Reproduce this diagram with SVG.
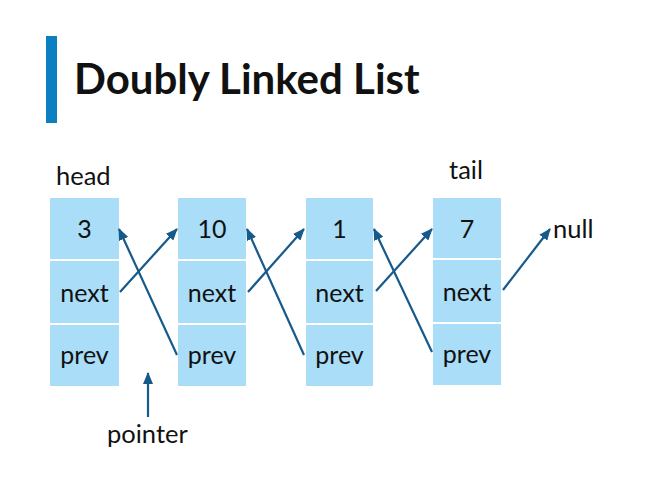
<svg xmlns="http://www.w3.org/2000/svg" width="653" height="483" viewBox="0 0 653 483">
<style>
.t{font-family:Lato,"Open Sans",sans-serif;fill:#111;}
.c{fill:#a9ddf8;}
.v{font-size:25px;text-anchor:middle;}
.lbl{font-size:25.5px;}
.a{stroke:#165a8c;stroke-width:2.2;fill:none;marker-end:url(#ah);}
</style>
<defs>
<marker id="ah" viewBox="0 0 12 10" refX="11" refY="5" markerWidth="12" markerHeight="10" markerUnits="userSpaceOnUse" orient="auto">
<path d="M0,0 L12,5 L0,10 Z" fill="#165a8c"/>
</marker>
</defs>
<rect width="653" height="483" fill="#ffffff"/>
<rect x="46" y="36" width="11" height="87" fill="#0a80c2"/>
<text class="t" x="74" y="94" font-size="42" font-weight="bold">Doubly Linked List</text>
<text class="t lbl" x="56" y="185">head</text>
<text class="t lbl" x="449" y="179">tail</text>
<text class="t lbl" x="553" y="238">null</text>
<text class="t lbl" x="107" y="443">pointer</text>
<g id="node1">
<rect class="c" x="50" y="198" width="69" height="61"/>
<rect class="c" x="50" y="261" width="69" height="62"/>
<rect class="c" x="50" y="325" width="69" height="61"/>
<text class="t v" x="84.5" y="238">3</text>
<text class="t v" x="84.5" y="302">next</text>
<text class="t v" x="84.5" y="364">prev</text>
</g>
<g id="node2">
<rect class="c" x="178" y="198" width="68" height="61"/>
<rect class="c" x="178" y="261" width="68" height="62"/>
<rect class="c" x="178" y="325" width="68" height="61"/>
<text class="t v" x="212" y="238">10</text>
<text class="t v" x="212" y="302">next</text>
<text class="t v" x="212" y="364">prev</text>
</g>
<g id="node3">
<rect class="c" x="306" y="198" width="67" height="61"/>
<rect class="c" x="306" y="261" width="67" height="62"/>
<rect class="c" x="306" y="325" width="67" height="61"/>
<text class="t v" x="339.5" y="238">1</text>
<text class="t v" x="339.5" y="302">next</text>
<text class="t v" x="339.5" y="364">prev</text>
</g>
<g id="node4">
<rect class="c" x="433" y="198" width="68" height="60"/>
<rect class="c" x="433" y="260" width="68" height="62"/>
<rect class="c" x="433" y="324" width="68" height="61"/>
<text class="t v" x="467" y="238">7</text>
<text class="t v" x="467" y="301">next</text>
<text class="t v" x="467" y="363">prev</text>
</g>
<g id="connectors">
<line class="a" x1="120" y1="292" x2="177" y2="229"/>
<line class="a" x1="177" y1="355" x2="119" y2="229"/>
<line class="a" x1="248" y1="292" x2="304" y2="229"/>
<line class="a" x1="304" y1="355" x2="247" y2="229"/>
<line class="a" x1="376" y1="291" x2="432" y2="229"/>
<line class="a" x1="432" y1="352" x2="374" y2="229"/>
<line class="a" x1="503" y1="290" x2="550" y2="229"/>
<line class="a" x1="148" y1="417" x2="148" y2="373"/>
</g>
</svg>
